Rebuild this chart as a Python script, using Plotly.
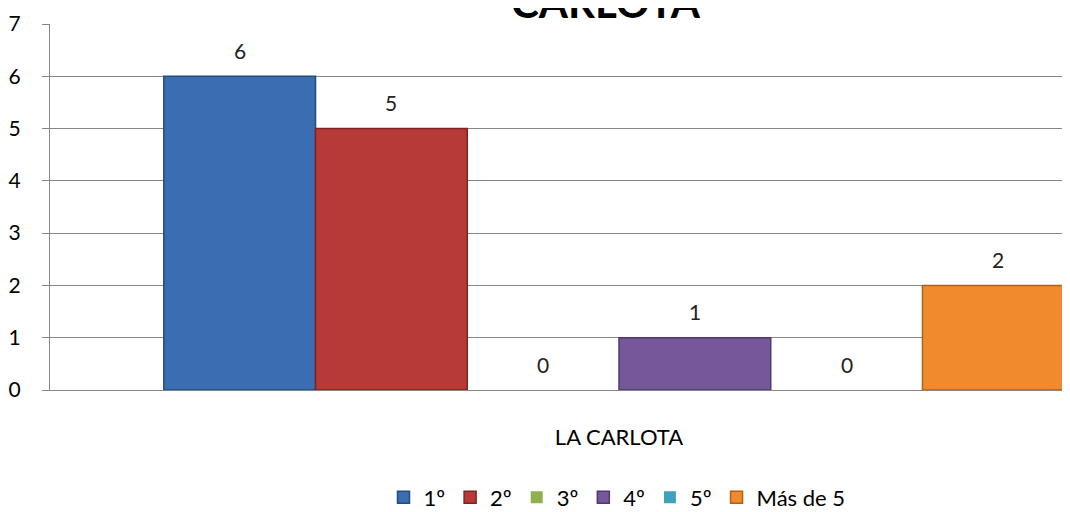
import plotly.graph_objects as go

category = ["LA CARLOTA"]
series_names = ["1º", "2º", "3º", "4º", "5º", "Más de 5"]
series_values = [6, 5, 0, 1, 0, 2]
series_colors = ["#3a6db2", "#b73a37", "#8fb04e", "#76589a", "#3fa1bc", "#f08a2c"]
edge_colors = ["#264b7d", "#7e2523", "#5f7a33", "#4f3a6b", "#2a7088", "#b0601a"]
title_text = "CARLOTA"

n = len(series_names)
group_width = 0.8

# page body adds an 8px offset, so margins are set 8px smaller
plot_w = 1070 - 42

fig = go.Figure()
for i, (name, val) in enumerate(zip(series_names, series_values)):
    fig.add_trace(go.Bar(
        x=category,
        y=[val],
        name=name,
        marker=dict(color=series_colors[i],
                    line=dict(color=edge_colors[i], width=1.5 if val else 0)),
    ))
    # data label above the bar
    fig.add_annotation(
        x=-group_width / 2 + (i + 0.5) * group_width / n,
        y=val,
        xref="x", yref="y",
        text=str(val),
        showarrow=False,
        yanchor="middle",
        yshift=26,
        font=dict(size=21, color="#222"),
    )

# title, partly cut off at the top like the original
fig.add_annotation(
    text=f"<b>{title_text}</b>",
    xref="paper", yref="paper",
    x=(598 - 42) / plot_w, y=1,
    xanchor="center", yanchor="bottom",
    yshift=-5,
    showarrow=False,
    font=dict(family="Lato", size=42, color="black"),
)

fig.update_layout(
    width=1070, height=512,
    barmode="group",
    bargap=0.2,
    bargroupgap=0,
    plot_bgcolor="white",
    paper_bgcolor="white",
    font=dict(family="Lato", size=16, color="black"),
    margin=dict(l=42, r=0, t=16, b=130, autoexpand=False),
    legend=dict(
        orientation="h",
        x=(609 - 42) / plot_w, xanchor="center",
        y=-0.236, yanchor="top",
        font=dict(size=22),
        itemwidth=30,
        traceorder="normal",
    ),
    xaxis=dict(
        range=[-0.5, -0.5 + plot_w / 1138],
        showline=True, linecolor="#868686", linewidth=1,
        ticks="", showgrid=False,
        ticklabelstandoff=28,
        tickfont=dict(size=22),
        automargin=False,
    ),
    yaxis=dict(
        range=[0, 7],
        dtick=1,
        showline=True, linecolor="#868686", linewidth=1,
        gridcolor="#868686", gridwidth=1,
        ticks="outside", ticklen=7, tickcolor="#868686",
        ticklabelstandoff=17,
        tickfont=dict(size=21),
        zeroline=False,
        automargin=False,
    ),
)

fig.write_html("out.html")
